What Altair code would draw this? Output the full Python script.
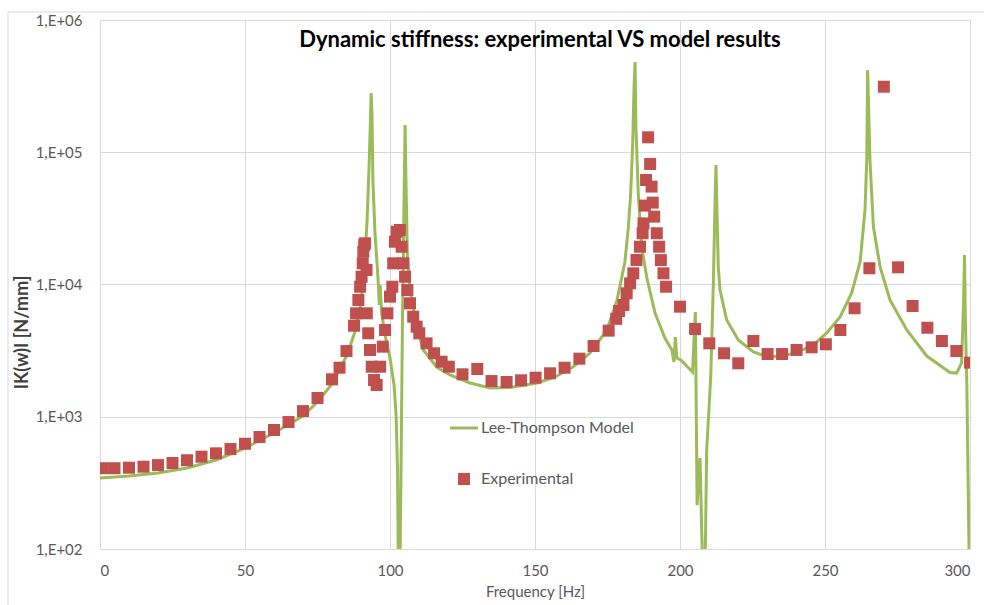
import altair as alt
import pandas as pd

# ---- Experimental data (frequency [Hz], |K(w)| [N/mm]) ----
exp_freq = [1, 5, 10, 15, 20, 25, 30, 35, 40, 45, 50, 55, 60, 65, 70, 75, 80, 82.6, 85,
            87.6, 88.3, 89.1, 89.7, 90.2, 90.6, 90.8, 91.1, 91.4,
            91.9, 92.0, 92.5, 93.1, 93.7, 94.5, 95.4,
            96.6, 97.5, 98.3, 99.1, 100.0, 100.8, 101.1, 101.7, 102.3, 103.4, 104.0, 104.6,
            105.2, 106.0, 106.9, 108.0, 109.2, 110.1, 112.6, 115.2, 117.8, 120.3,
            125, 130.1, 135, 140.2, 145.2, 150.2, 155.2, 160.2, 165.3, 170.2, 175.4,
            178, 179, 180.5, 181.6, 182.8, 183.9, 185, 186.2, 187.1, 187.4, 187.9, 188.3,
            189, 189.7, 190.2, 190.6, 191.1, 192, 192.8, 193.4, 194.3, 195.2, 200,
            205.2, 210.1, 215.2, 220.1, 225.3, 230.2, 235.2, 240.2, 245.4, 250.3, 255.3,
            260.2, 265.3, 270.3, 275.2, 280.2, 285.3, 290.3, 295.3, 300]
exp_val = [408, 408, 412, 419, 431, 447, 469, 499, 529, 570, 625, 703, 794, 912, 1104, 1386, 1919, 2349, 3140,
           4880, 6055, 7635, 9620, 11450, 14460, 17700, 19900, 20500,
           12880, 6055, 4276, 3196, 2390, 1895, 1737,
           2390, 3388, 4528, 6055, 8090, 9620, 14460, 21070, 25070, 25830, 19300, 14460,
           11450, 9080, 7210, 5710, 4800, 4276, 3590, 3019, 2608, 2390,
           2094, 2296, 1862, 1832, 1886, 1974, 2131, 2349, 2748, 3427, 4478,
           5500, 6300, 7000, 8580, 10200, 12150, 15320, 19300, 24400, 29000, 39500, 61700,
           129700, 81500, 55000, 41600, 32600, 24400, 19300, 15300, 12150, 9620, 6800,
           4610, 3590, 3019, 2536, 3740, 2980, 2980, 3200, 3350, 3530, 4530,
           6610, 13270, 313000, 13490, 6880, 4710, 3740, 3140, 2565]

# ---- Lee-Thompson model curve ----
mod_freq = [0, 10, 20, 30, 40, 50, 60, 70, 75, 80, 85, 87.9, 89.7, 91.0, 92.1, 92.8, 93.3, 93.5,
            93.8, 94.1, 94.8, 95.5, 96.0, 96.3, 96.6, 97.1, 98.3, 100.0, 101.4, 102.1, 102.6,
            102.9, 103.4, 103.9, 104.3, 104.8, 105.2, 105.5, 106.0, 106.9, 109.2, 111.5, 116.1,
            120.7, 127.6, 134.5, 141.4, 150.7, 156.9, 163.1, 169.0, 174.8, 178.3, 181.0, 182.2,
            183.0, 183.7, 184.1, 184.5, 184.8, 185.6, 186.8, 188.5, 191.4, 194.8, 197.2, 197.9,
            198.4, 198.9, 200.3, 204.3, 205.3, 205.9, 206.9, 207.4, 207.9, 208.6, 209.2, 210.6,
            211.5, 212.1, 212.4, 212.9, 213.2, 213.8, 216.1, 220.1, 225.3, 230.4, 235.6, 240.8,
            246.0, 250.6, 255.2, 259.2, 262.1, 263.8, 264.4, 264.7, 265.5, 266.7, 269.0, 272.4,
            278.2, 285.1, 293.1, 295.4, 297.1, 297.8, 298.1, 298.4, 298.9, 299.3, 299.8]
mod_val = [344, 356, 376, 410, 471, 580, 754, 1013, 1294, 1770, 2878, 4375, 6640, 11800, 30700, 80100, 191000, 280000,
           191000, 61700, 24900, 14800, 9910, 7000, 9910, 6085, 4150, 2780, 1738, 1030, 395,
           60, 60, 667, 5390, 36600, 160700, 61700, 16140, 9080, 4770, 3200, 2377,
           2070, 1800, 1650, 1664, 1800, 2000, 2377, 3034, 4530, 7635, 14800, 27200,
           49200, 117500, 280000, 481000, 155200, 49200, 19200, 11400, 6090, 3940, 3200, 2595,
           4010, 2780, 2685, 2180, 6195, 215, 488, 166, 60, 60, 561, 2000,
           10260, 43500, 80100, 25800, 13560, 9080, 5390, 3802, 3090, 2830, 2878, 3090,
           3490, 4300, 5680, 8630, 14800, 36600, 87300, 419000, 87300, 27200, 13560, 7635,
           4530, 2878, 2160, 2140, 2550, 7635, 16700, 5390, 1800, 395, 60]

x_ticks = [0, 50, 100, 150, 200, 250, 300]
y_ticks = [100, 1000, 10000, 100000, 1000000]

title_text = "Dynamic stiffness: experimental VS model results"
legend_line = "Lee-Thompson Model"
legend_pts = "Experimental"

GREEN = "#9BBB59"
RED = "#C0504D"
GRAY = "#595959"
FONT = "Lato"

exp_df = pd.DataFrame({"f": exp_freq, "k": exp_val})
mod_df = pd.DataFrame({"f": mod_freq, "k": mod_val})
one = pd.DataFrame({"a": [0]})

xscale = alt.Scale(domain=[0, 300], nice=False)
yscale = alt.Scale(type="log", domain=[100, 1000000], nice=False)

xaxis = alt.Axis(values=x_ticks, title="Frequency [Hz]", grid=True, gridColor="#D9D9D9",
                 domain=False, ticks=False, labelPadding=14, labelFontSize=15,
                 labelColor=GRAY, labelFont=FONT, titleFont=FONT, titleFontSize=15,
                 titleFontWeight="normal", titleColor=GRAY, titlePadding=6)
yaxis = alt.Axis(values=y_ticks, title="IK(w)I [N/mm]", grid=True, gridColor="#D9D9D9",
                 domain=False, ticks=False, labelPadding=18, labelFontSize=15,
                 labelColor=GRAY, labelFont=FONT,
                 labelExpr="'1,E+0' + round(log(datum.value) / LN10)",
                 titleFont=FONT, titleFontSize=18, titleFontWeight="bold", titleColor="#404040",
                 titleX=-78, titleY=312, titleBaseline="middle", titleAlign="center")

line = alt.Chart(mod_df).mark_line(color=GREEN, strokeWidth=3, clip=True).encode(
    x=alt.X("f:Q", scale=xscale, axis=xaxis),
    y=alt.Y("k:Q", scale=yscale, axis=yaxis),
    order="f:Q",
)

pts = alt.Chart(exp_df).mark_point(shape="square", filled=True, size=144, color=RED,
                                   opacity=1, clip=True).encode(
    x=alt.X("f:Q", scale=xscale),
    y=alt.Y("k:Q", scale=yscale),
)

title = alt.Chart(one).mark_text(text=title_text, font=FONT, fontSize=22, fontWeight="bold",
                                 color="#000000", align="center", baseline="middle").encode(
    x=alt.value(440), y=alt.value(20))

leg_rule = alt.Chart(one).mark_rule(color=GREEN, strokeWidth=3).encode(
    x=alt.value(350), x2=alt.value(378), y=alt.value(408))
leg_t1 = alt.Chart(one).mark_text(text=legend_line, font=FONT, fontSize=16, color=GRAY,
                                  align="left", baseline="middle").encode(
    x=alt.value(381), y=alt.value(408))
leg_sq = alt.Chart(one).mark_point(shape="square", filled=True, size=144, color=RED,
                                   opacity=1).encode(x=alt.value(364), y=alt.value(459))
leg_t2 = alt.Chart(one).mark_text(text=legend_pts, font=FONT, fontSize=16, color=GRAY,
                                  align="left", baseline="middle").encode(
    x=alt.value(381), y=alt.value(459))

border_l = alt.Chart(one).mark_rule(color="#D9D9D9", strokeWidth=1).encode(
    x=alt.value(-92), y=alt.value(-8), y2=alt.value(600))
border_t = alt.Chart(one).mark_rule(color="#D9D9D9", strokeWidth=1).encode(
    x=alt.value(-92), x2=alt.value(900), y=alt.value(-8))

chart = alt.layer(border_l, border_t, line, pts, title, leg_rule, leg_t1, leg_sq, leg_t2).properties(
    width=870, height=529,
    autosize=alt.AutoSizeParams(type="none"),
    padding={"left": 100, "top": 20, "right": 14, "bottom": 56},
    background="white",
).configure_view(stroke=None)

chart.save("out.html", embed_options={"renderer": "svg", "actions": False})
